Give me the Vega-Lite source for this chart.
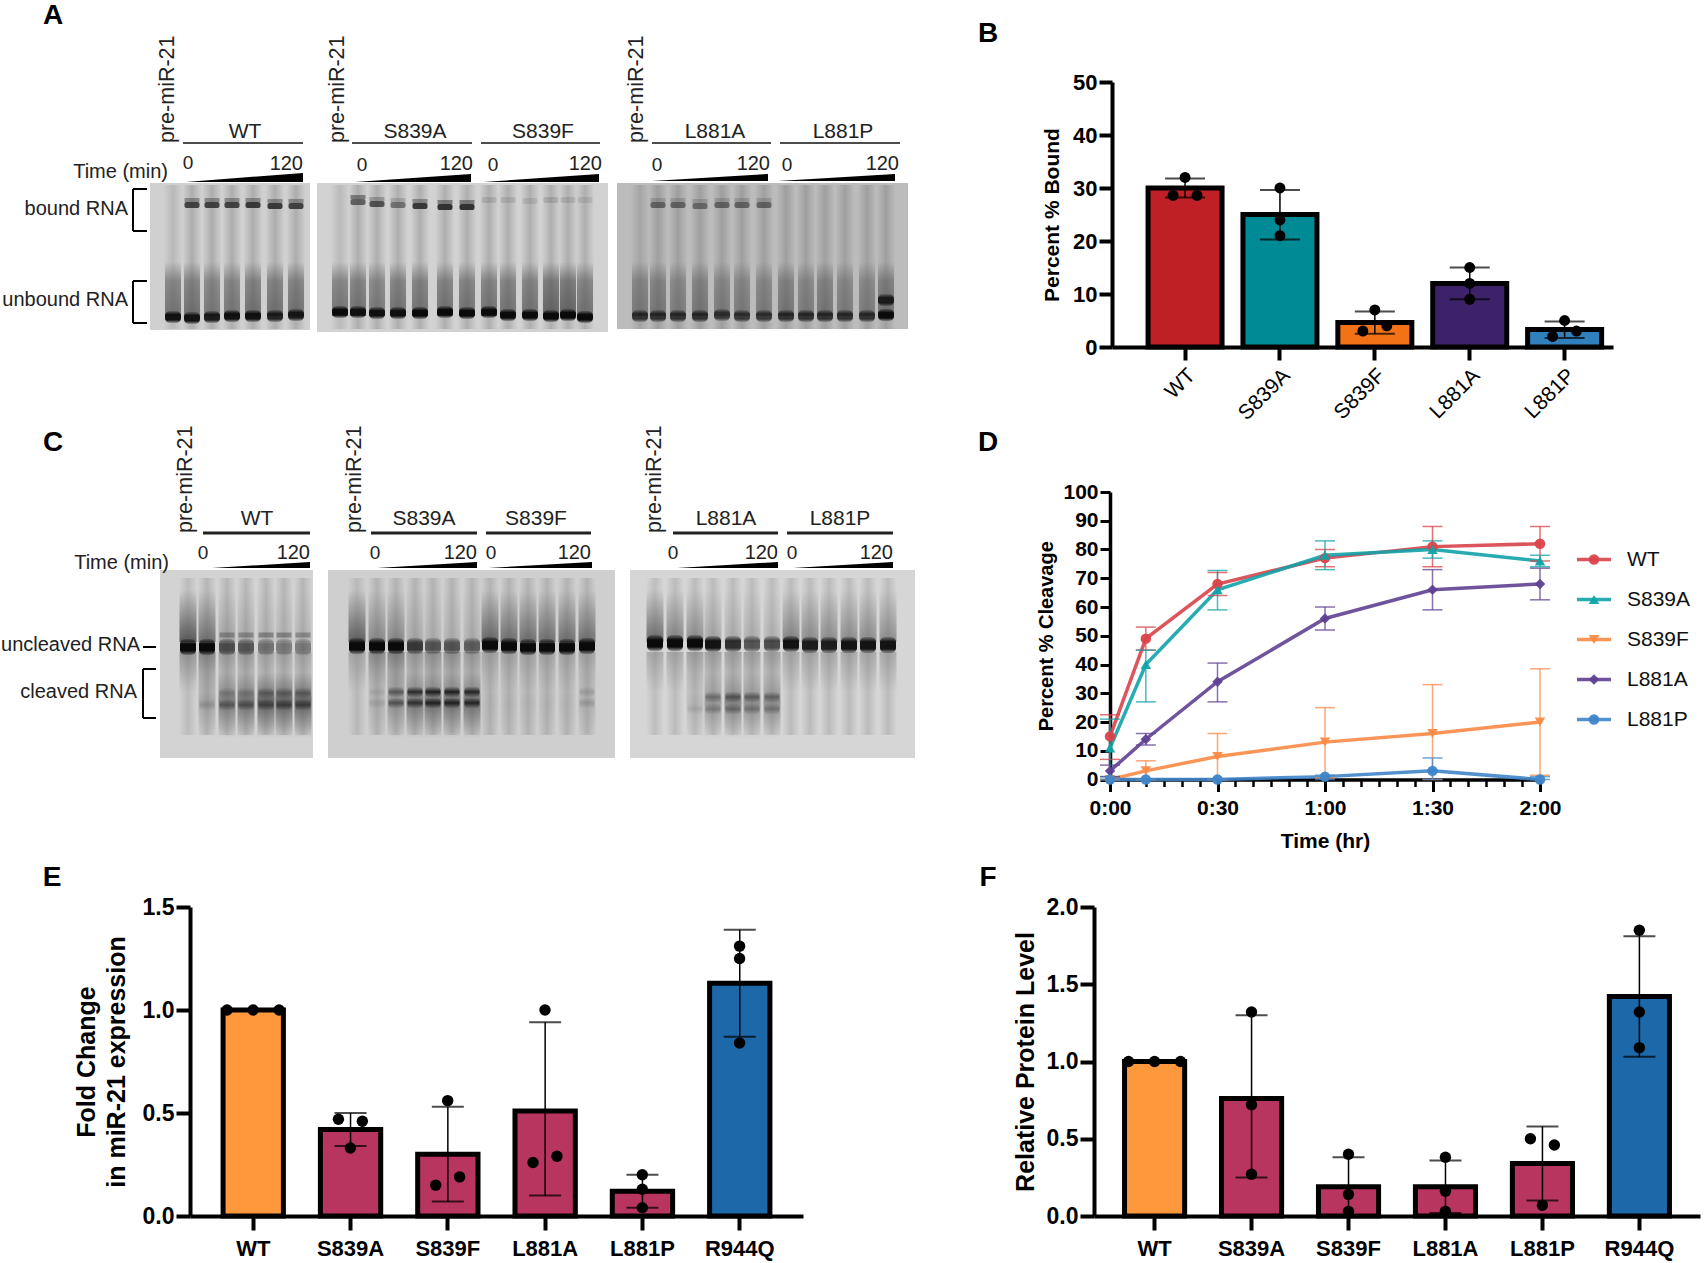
{"$schema":"https://vega.github.io/schema/vega-lite/v6.json","padding":0,"background":"white","config":{"view":{"stroke":null},"font":"Liberation Sans","axis":{"labelFont":"Liberation Sans","titleFont":"Liberation Sans","labelColor":"#000","titleColor":"#000","domainColor":"#000","tickColor":"#000","grid":false,"labelFlush":false}},
"datasets":{
"gelsA":[{"gel":"g1","x0":150,"x1":310,"y0":183,"y1":330},{"gel":"g2","x0":317,"x1":608,"y0":183,"y1":332},{"gel":"g3","x0":617,"x1":908,"y0":183,"y1":329}],
"gelsC":[{"gel":"g1","x0":160,"x1":313,"y0":570,"y1":758},{"gel":"g2","x0":328,"x1":615,"y0":570,"y1":758},{"gel":"g3","x0":630,"x1":915,"y0":570,"y1":758}],
"lanesA":[
{"p":173,"u":317,"uv":0.95,"sv":0.6,"lv":0.2},{"p":192,"u":318,"uv":0.95,"b":205,"bv":0.8,"tv":0.4,"sv":0.6,"lv":0.3},{"p":212,"u":317,"uv":0.9,"b":205,"bv":0.8,"tv":0.4,"sv":0.55,"lv":0.3},{"p":232,"u":316,"uv":0.95,"b":205,"bv":0.8,"tv":0.4,"sv":0.55,"lv":0.3},{"p":253,"u":316,"uv":0.95,"b":205,"bv":0.85,"tv":0.4,"sv":0.6,"lv":0.3},{"p":275,"u":316,"uv":0.85,"b":206,"bv":0.85,"tv":0.4,"sv":0.6,"lv":0.3},{"p":296,"u":315,"uv":0.9,"b":206,"bv":0.8,"tv":0.4,"sv":0.6,"lv":0.3},
{"p":340,"u":312,"uv":1,"sv":0.6,"lv":0.2},{"p":358,"u":312,"uv":0.95,"b":202,"bv":0.6,"tv":0.5,"sv":0.6,"lv":0.3},{"p":377,"u":313,"uv":0.95,"b":204,"bv":0.7,"tv":0.3,"sv":0.55,"lv":0.3},{"p":398,"u":313,"uv":0.95,"b":205,"bv":0.5,"tv":0.2,"sv":0.6,"lv":0.3},{"p":420,"u":313,"uv":1,"b":206,"bv":0.85,"tv":0.4,"sv":0.6,"lv":0.3},{"p":445,"u":312,"uv":1,"b":207,"bv":0.9,"tv":0.5,"sv":0.6,"lv":0.3},{"p":467,"u":313,"uv":1,"b":207,"bv":0.9,"tv":0.5,"sv":0.6,"lv":0.3},
{"p":489,"u":312,"uv":1,"b":200,"bv":0.12,"sv":0.6,"lv":0.3},{"p":508,"u":315,"uv":1,"b":200,"bv":0.12,"sv":0.6,"lv":0.3},{"p":530,"u":315,"uv":1,"b":201,"bv":0.1,"sv":0.6,"lv":0.3},{"p":551,"u":316,"uv":1,"b":200,"bv":0.15,"sv":0.7,"lv":0.3},{"p":568,"u":315,"uv":1,"b":200,"bv":0.12,"sv":0.7,"lv":0.3},{"p":585,"u":317,"uv":1,"b":200,"bv":0.1,"sv":0.6,"lv":0.3},
{"p":640,"u":316,"uv":0.75,"sv":0.5,"lv":0.25},{"p":658,"u":316,"uv":0.75,"b":205,"bv":0.55,"tv":0.2,"sv":0.5,"lv":0.3},{"p":678,"u":316,"uv":0.75,"b":205,"bv":0.55,"tv":0.2,"sv":0.45,"lv":0.3},{"p":700,"u":316,"uv":0.75,"b":206,"bv":0.5,"tv":0.2,"sv":0.5,"lv":0.3},{"p":722,"u":315,"uv":0.7,"b":205,"bv":0.55,"tv":0.2,"sv":0.45,"lv":0.3},{"p":742,"u":316,"uv":0.7,"b":205,"bv":0.55,"tv":0.2,"sv":0.45,"lv":0.3},{"p":764,"u":316,"uv":0.7,"b":205,"bv":0.55,"tv":0.2,"sv":0.45,"lv":0.3},
{"p":786,"u":316,"uv":0.75,"sv":0.5,"lv":0.3},{"p":806,"u":316,"uv":0.75,"sv":0.45,"lv":0.3},{"p":825,"u":316,"uv":0.75,"sv":0.5,"lv":0.3},{"p":845,"u":316,"uv":0.75,"sv":0.45,"lv":0.3},{"p":867,"u":316,"uv":0.75,"sv":0.45,"lv":0.3},{"p":886,"u":315,"uv":1,"sv":0.55,"lv":0.3},{"p":886,"u":300,"uv":0.85}],
"lanesC":[
{"p":188,"u":647,"uv":1,"sv":0.65,"dv":0.3,"lv":0.2},{"p":207,"u":647,"uv":1,"sv":0.5,"dv":0.4,"cv":0.2,"c2":705,"c2v":0.15,"lv":0.25},{"p":227,"u":647,"uv":0.65,"tv":0.3,"sv":0.2,"dv":0.25,"cv":0.45,"c1":693,"c1v":0.2,"c2":705,"c2v":0.4,"lv":0.25},{"p":246,"u":647,"uv":0.6,"tv":0.3,"sv":0.15,"dv":0.25,"cv":0.5,"c1":693,"c1v":0.2,"c2":705,"c2v":0.45,"lv":0.25},{"p":266,"u":647,"uv":0.45,"tv":0.35,"sv":0.1,"dv":0.2,"cv":0.6,"c1":693,"c1v":0.35,"c2":705,"c2v":0.5,"lv":0.25},{"p":284,"u":647,"uv":0.4,"tv":0.35,"sv":0.1,"dv":0.2,"cv":0.6,"c1":693,"c1v":0.35,"c2":705,"c2v":0.55,"lv":0.25},{"p":303,"u":647,"uv":0.4,"tv":0.3,"sv":0.1,"dv":0.2,"cv":0.6,"c1":693,"c1v":0.35,"c2":705,"c2v":0.55,"lv":0.25},
{"p":357,"u":646,"uv":1,"sv":0.6,"dv":0.2,"lv":0.2},{"p":377,"u":646,"uv":1,"sv":0.35,"dv":0.35,"cv":0.1,"c1":692,"c1v":0.1,"c2":703,"c2v":0.1,"lv":0.25},{"p":396,"u":646,"uv":1,"sv":0.35,"dv":0.4,"cv":0.3,"c1":692,"c1v":0.5,"c2":703,"c2v":0.5,"lv":0.25},{"p":415,"u":646,"uv":0.75,"sv":0.15,"dv":0.25,"cv":0.45,"c1":692,"c1v":0.8,"c2":703,"c2v":0.7,"lv":0.25},{"p":433,"u":646,"uv":0.6,"sv":0.1,"dv":0.3,"cv":0.5,"c1":692,"c1v":0.9,"c2":703,"c2v":0.85,"lv":0.25},{"p":452,"u":646,"uv":0.6,"sv":0.1,"dv":0.3,"cv":0.5,"c1":692,"c1v":0.9,"c2":703,"c2v":0.85,"lv":0.25},{"p":472,"u":646,"uv":0.55,"sv":0.1,"dv":0.25,"cv":0.5,"c1":692,"c1v":0.85,"c2":703,"c2v":0.8,"lv":0.25},
{"p":490,"u":645,"uv":1,"sv":0.55,"dv":0.2,"cv":0.05,"lv":0.25},{"p":509,"u":646,"uv":1,"sv":0.5,"dv":0.2,"cv":0.05,"lv":0.25},{"p":528,"u":647,"uv":1,"sv":0.5,"dv":0.2,"cv":0.05,"lv":0.25},{"p":547,"u":647,"uv":1,"sv":0.5,"dv":0.2,"cv":0.05,"lv":0.25},{"p":567,"u":647,"uv":1,"sv":0.5,"dv":0.2,"cv":0.05,"lv":0.25},{"p":587,"u":646,"uv":1,"sv":0.5,"dv":0.2,"cv":0.1,"c1":692,"c1v":0.15,"c2":703,"c2v":0.15,"lv":0.25},
{"p":655,"u":643,"uv":1,"sv":0.55,"dv":0.2,"lv":0.2},{"p":675,"u":643,"uv":1,"sv":0.4,"dv":0.2,"lv":0.22},{"p":695,"u":643,"uv":1,"sv":0.35,"dv":0.25,"cv":0.1,"c2":709,"c2v":0.1,"lv":0.22},{"p":713,"u":644,"uv":0.95,"sv":0.2,"dv":0.25,"cv":0.3,"c1":697,"c1v":0.35,"c2":709,"c2v":0.25,"lv":0.22},{"p":733,"u":644,"uv":0.8,"sv":0.15,"dv":0.25,"cv":0.4,"c1":697,"c1v":0.5,"c2":709,"c2v":0.35,"lv":0.22},{"p":752,"u":644,"uv":0.6,"sv":0.15,"dv":0.25,"cv":0.35,"c1":697,"c1v":0.45,"c2":709,"c2v":0.3,"lv":0.22},{"p":772,"u":644,"uv":0.65,"sv":0.12,"dv":0.25,"cv":0.35,"c1":697,"c1v":0.4,"c2":709,"c2v":0.3,"lv":0.22},
{"p":791,"u":644,"uv":0.95,"sv":0.4,"dv":0.2,"lv":0.22},{"p":810,"u":645,"uv":0.9,"sv":0.35,"dv":0.2,"lv":0.22},{"p":829,"u":645,"uv":0.9,"sv":0.35,"dv":0.2,"lv":0.22},{"p":849,"u":645,"uv":0.95,"sv":0.35,"dv":0.2,"lv":0.22},{"p":868,"u":645,"uv":0.95,"sv":0.35,"dv":0.2,"lv":0.22},{"p":888,"u":645,"uv":0.95,"sv":0.35,"dv":0.2,"lv":0.22}],
"wedgesA":[{"w":1,"x":186,"top":182,"bot":182},{"w":1,"x":303,"top":173,"bot":182},{"w":2,"x":355,"top":182,"bot":182},{"w":2,"x":471,"top":174,"bot":182},{"w":3,"x":483,"top":182,"bot":182},{"w":3,"x":599,"top":174,"bot":182},{"w":4,"x":652,"top":181,"bot":181},{"w":4,"x":768,"top":174,"bot":181},{"w":5,"x":778,"top":181,"bot":181},{"w":5,"x":895,"top":174,"bot":181}],
"wedgesC":[{"w":1,"x":212,"top":568,"bot":568},{"w":1,"x":310,"top":562,"bot":568},{"w":2,"x":377,"top":568,"bot":568},{"w":2,"x":477,"top":562,"bot":568},{"w":3,"x":488,"top":568,"bot":568},{"w":3,"x":592,"top":562,"bot":568},{"w":4,"x":677,"top":568,"bot":568},{"w":4,"x":778,"top":562,"bot":568},{"w":5,"x":793,"top":568,"bot":568},{"w":5,"x":893,"top":562,"bot":568}],
"rulesA":[{"x":183,"x2":303,"y":143},{"x":352,"x2":472,"y":143},{"x":481,"x2":600,"y":143},{"x":652,"x2":771,"y":143},{"x":780,"x2":900,"y":143}],
"bracketsA":[{"x":133,"x2":147,"y":189,"y2":189},{"x":133,"x2":133,"y":189,"y2":231},{"x":133,"x2":147,"y":231,"y2":231},{"x":133,"x2":147,"y":281,"y2":281},{"x":133,"x2":133,"y":281,"y2":323},{"x":133,"x2":147,"y":323,"y2":323}],
"rulesC":[{"x":203,"x2":310,"y":533},{"x":371,"x2":477,"y":533},{"x":486,"x2":591,"y":533},{"x":673,"x2":778,"y":533},{"x":787,"x2":893,"y":533}],
"bracketsC":[{"x":143,"x2":156,"y":647,"y2":647},{"x":143,"x2":156,"y":669,"y2":669},{"x":143,"x2":143,"y":669,"y2":718},{"x":143,"x2":156,"y":718,"y2":718}],
"namesA":[{"t":"WT","x":245,"y":132},{"t":"S839A","x":415,"y":132},{"t":"S839F","x":543,"y":132},{"t":"L881A","x":715,"y":132},{"t":"L881P","x":843,"y":132}],
"zerosA":[{"t":"0","x":188,"y":163},{"t":"0","x":362,"y":165},{"t":"0","x":493,"y":165},{"t":"0","x":657,"y":165},{"t":"0","x":787,"y":165}],
"rightA":[{"t":"120","x":303,"y":164},{"t":"120","x":473,"y":164},{"t":"120","x":602,"y":164},{"t":"120","x":770,"y":164},{"t":"120","x":899,"y":164},{"t":"Time (min)","x":168,"y":172},{"t":"bound RNA","x":128,"y":209},{"t":"unbound RNA","x":128,"y":300}],
"rotA":[{"t":"pre-miR-21","x":168,"y":143},{"t":"pre-miR-21","x":338,"y":143},{"t":"pre-miR-21","x":637,"y":143}],
"letA":[{"t":"A","x":53,"y":16},{"t":"B","x":988,"y":34}],
"namesC":[{"t":"WT","x":257,"y":519},{"t":"S839A","x":424,"y":519},{"t":"S839F","x":536,"y":519},{"t":"L881A","x":726,"y":519},{"t":"L881P","x":840,"y":519}],
"zerosC":[{"t":"0","x":203,"y":553},{"t":"0","x":375,"y":553},{"t":"0","x":491,"y":553},{"t":"0","x":673,"y":553},{"t":"0","x":792,"y":553}],
"rightC":[{"t":"120","x":310,"y":553},{"t":"120","x":477,"y":553},{"t":"120","x":591,"y":553},{"t":"120","x":778,"y":553},{"t":"120","x":893,"y":553},{"t":"Time (min)","x":169,"y":563},{"t":"uncleaved RNA","x":140,"y":645},{"t":"cleaved RNA","x":137,"y":692}],
"rotC":[{"t":"pre-miR-21","x":186,"y":533},{"t":"pre-miR-21","x":355,"y":533},{"t":"pre-miR-21","x":655,"y":533}],
"letC":[{"t":"C","x":53,"y":443},{"t":"D","x":988,"y":443}],
"barsB":[{"g":"WT","v":30,"lo":28.2,"hi":31.8},{"g":"S839A","v":25,"lo":20.3,"hi":29.6},{"g":"S839F","v":4.6,"lo":2.5,"hi":6.7},{"g":"L881A","v":12,"lo":9,"hi":15},{"g":"L881P","v":3.3,"lo":1.7,"hi":4.8}],
"ptsB":[{"g":"WT","v":32,"j":0},{"g":"WT","v":28.6,"j":-0.46},{"g":"WT","v":28.6,"j":0.46},{"g":"S839A","v":30,"j":0},{"g":"S839A","v":24,"j":0},{"g":"S839A","v":21,"j":0},{"g":"S839F","v":7,"j":0},{"g":"S839F","v":3,"j":-0.46},{"g":"S839F","v":4,"j":0.46},{"g":"L881A","v":15,"j":0},{"g":"L881A","v":12,"j":0},{"g":"L881A","v":9,"j":0},{"g":"L881P","v":5,"j":0},{"g":"L881P","v":2,"j":-0.46},{"g":"L881P","v":3,"j":0.46}],
"series":[{"s":"WT"},{"s":"S839A"},{"s":"S839F"},{"s":"L881A"},{"s":"L881P"}],
"curves":[
{"s":"WT","t":0,"v":15,"lo":7,"hi":22.5},{"s":"WT","t":10,"v":49,"lo":45,"hi":53},{"s":"WT","t":30,"v":68,"lo":64,"hi":72},{"s":"WT","t":60,"v":77,"lo":74,"hi":80},{"s":"WT","t":90,"v":81,"lo":74,"hi":88},{"s":"WT","t":120,"v":82,"lo":76,"hi":88},
{"s":"S839A","t":0,"v":11,"lo":1,"hi":21},{"s":"S839A","t":10,"v":40,"lo":27,"hi":45},{"s":"S839A","t":30,"v":66,"lo":59,"hi":72.7},{"s":"S839A","t":60,"v":78,"lo":73,"hi":83},{"s":"S839A","t":90,"v":80,"lo":77,"hi":83},{"s":"S839A","t":120,"v":76,"lo":74,"hi":78},
{"s":"S839F","t":0,"v":0,"lo":0,"hi":0},{"s":"S839F","t":10,"v":3,"lo":0,"hi":6.5},{"s":"S839F","t":30,"v":8,"lo":0,"hi":16},{"s":"S839F","t":60,"v":13,"lo":0.5,"hi":25},{"s":"S839F","t":90,"v":16,"lo":0,"hi":33},{"s":"S839F","t":120,"v":20,"lo":1.5,"hi":38.5},
{"s":"L881A","t":0,"v":3,"lo":1,"hi":5},{"s":"L881A","t":10,"v":14,"lo":12,"hi":16},{"s":"L881A","t":30,"v":34,"lo":27,"hi":40.5},{"s":"L881A","t":60,"v":56,"lo":52,"hi":60},{"s":"L881A","t":90,"v":66,"lo":59,"hi":73},{"s":"L881A","t":120,"v":68,"lo":62.5,"hi":73.5},
{"s":"L881P","t":0,"v":0,"lo":0,"hi":0},{"s":"L881P","t":10,"v":0,"lo":0,"hi":0},{"s":"L881P","t":30,"v":0,"lo":0,"hi":0},{"s":"L881P","t":60,"v":1,"lo":0,"hi":1.5},{"s":"L881P","t":90,"v":3,"lo":0,"hi":7.5},{"s":"L881P","t":120,"v":0,"lo":0,"hi":1}],
"barsE":[{"g":"WT","v":1,"lo":1,"hi":1,"c":"ref"},{"g":"S839A","v":0.42,"lo":0.34,"hi":0.5,"c":"mut"},{"g":"S839F","v":0.3,"lo":0.07,"hi":0.53,"c":"mut"},{"g":"L881A","v":0.51,"lo":0.1,"hi":0.94,"c":"mut"},{"g":"L881P","v":0.12,"lo":0.04,"hi":0.2,"c":"mut"},{"g":"R944Q","v":1.13,"lo":0.87,"hi":1.39,"c":"alt"}],
"ptsE":[{"g":"WT","v":1,"j":-1},{"g":"WT","v":1,"j":0},{"g":"WT","v":1,"j":1},{"g":"S839A","v":0.47,"j":-0.46},{"g":"S839A","v":0.46,"j":0.46},{"g":"S839A","v":0.33,"j":0},{"g":"S839F","v":0.56,"j":0},{"g":"S839F","v":0.15,"j":-0.46},{"g":"S839F","v":0.19,"j":0.46},{"g":"L881A","v":1,"j":0},{"g":"L881A","v":0.26,"j":-0.46},{"g":"L881A","v":0.29,"j":0.46},{"g":"L881P","v":0.2,"j":0},{"g":"L881P","v":0.13,"j":0},{"g":"L881P","v":0.04,"j":0},{"g":"R944Q","v":1.31,"j":0},{"g":"R944Q","v":1.25,"j":0},{"g":"R944Q","v":0.84,"j":0}],
"barsF":[{"g":"WT","v":1,"lo":1,"hi":1,"c":"ref"},{"g":"S839A","v":0.76,"lo":0.25,"hi":1.3,"c":"mut"},{"g":"S839F","v":0.19,"lo":0,"hi":0.38,"c":"mut"},{"g":"L881A","v":0.19,"lo":0.02,"hi":0.36,"c":"mut"},{"g":"L881P","v":0.34,"lo":0.1,"hi":0.58,"c":"mut"},{"g":"R944Q","v":1.42,"lo":1.03,"hi":1.81,"c":"alt"}],
"ptsF":[{"g":"WT","v":1,"j":-1},{"g":"WT","v":1,"j":0},{"g":"WT","v":1,"j":1},{"g":"S839A","v":1.32,"j":0},{"g":"S839A","v":0.72,"j":0},{"g":"S839A","v":0.27,"j":0},{"g":"S839F","v":0.4,"j":0},{"g":"S839F","v":0.14,"j":0},{"g":"S839F","v":0.03,"j":0},{"g":"L881A","v":0.38,"j":0},{"g":"L881A","v":0.16,"j":0},{"g":"L881A","v":0.03,"j":0},{"g":"L881P","v":0.5,"j":-0.46},{"g":"L881P","v":0.46,"j":0.46},{"g":"L881P","v":0.07,"j":0},{"g":"R944Q","v":1.85,"j":0},{"g":"R944Q","v":1.32,"j":0},{"g":"R944Q","v":1.09,"j":0}],
"letE":[{"t":"E","x":52,"y":878}],
"letF":[{"t":"F","x":988,"y":878}]
},
"spacing":0,"bounds":"full","resolve":{"scale":{"color":"independent","shape":"independent"}},
"vconcat":[
{"hconcat":[
{"width":1112,"height":425,"layer":[
{"data":{"name":"gelsA"},"mark":{"type":"rect"},"encoding":{"x":{"field":"x0","type":"quantitative","axis":null,"scale":{"domain":[0,1112],"nice":false,"zero":false}},"x2":{"field":"x1"},"y":{"field":"y0","type":"quantitative","axis":null,"scale":{"domain":[425,0],"nice":false,"zero":false}},"y2":{"field":"y1"},"color":{"field":"gel","type":"nominal","legend":null,"scale":{"domain":["g1","g2","g3"],"range":["#d0d0d0","#d2d2d2","#bcbcbc"]}}}},
{"data":{"name":"lanesA"},"transform":[{"filter":"datum.lv>0"}],"mark":{"type":"rect","width":19,"fill":{"gradient":"linear","x1":0,"y1":0,"x2":1,"y2":0,"stops":[{"offset":0,"color":"rgba(90,90,90,0)"},{"offset":0.5,"color":"#5a5a5a"},{"offset":1,"color":"rgba(90,90,90,0)"}]}},"encoding":{"x":{"field":"p","type":"quantitative","axis":null},"y":{"datum":185,"type":"quantitative","axis":null},"y2":{"datum":329},"opacity":{"field":"lv","type":"quantitative","scale":null}}},
{"data":{"name":"lanesA"},"transform":[{"filter":"datum.sv>0"}],"mark":{"type":"rect","width":16,"fill":{"gradient":"linear","x1":0,"y1":0,"x2":0,"y2":1,"stops":[{"offset":0,"color":"rgba(60,60,60,0)"},{"offset":0.35,"color":"rgba(60,60,60,0.75)"},{"offset":1,"color":"#3c3c3c"}]}},"encoding":{"x":{"field":"p","type":"quantitative","axis":null},"y":{"datum":262,"type":"quantitative","axis":null},"y2":{"datum":316},"opacity":{"field":"sv","type":"quantitative","scale":null}}},
{"data":{"name":"lanesA"},"transform":[{"filter":"datum.tv>0"}],"mark":{"type":"rect","width":15,"height":4,"fill":"#333"},"encoding":{"x":{"field":"p","type":"quantitative","axis":null},"y":{"field":"b","type":"quantitative","axis":null},"yOffset":{"datum":-5,"scale":null},"opacity":{"field":"tv","type":"quantitative","scale":null}}},
{"data":{"name":"lanesA"},"transform":[{"filter":"datum.bv>0"}],"mark":{"type":"rect","width":15,"height":6,"cornerRadius":2,"fill":"#222"},"encoding":{"x":{"field":"p","type":"quantitative","axis":null},"y":{"field":"b","type":"quantitative","axis":null},"opacity":{"field":"bv","type":"quantitative","scale":null}}},
{"data":{"name":"lanesA"},"mark":{"type":"rect","width":16,"height":12,"cornerRadius":5,"fill":{"gradient":"linear","x1":0,"y1":0,"x2":0,"y2":1,"stops":[{"offset":0,"color":"rgba(10,10,10,0.2)"},{"offset":0.3,"color":"#0a0a0a"},{"offset":0.75,"color":"#0a0a0a"},{"offset":1,"color":"rgba(10,10,10,0.2)"}]}},"encoding":{"x":{"field":"p","type":"quantitative","axis":null},"y":{"field":"u","type":"quantitative","axis":null},"opacity":{"field":"uv","type":"quantitative","scale":null}}},
{"data":{"name":"wedgesA"},"mark":{"type":"area","color":"#000"},"encoding":{"x":{"field":"x","type":"quantitative","axis":null},"y":{"field":"top","type":"quantitative","axis":null},"y2":{"field":"bot"},"detail":{"field":"w"}}},
{"data":{"name":"rulesA"},"mark":{"type":"rule","strokeWidth":1.5,"color":"#111"},"encoding":{"x":{"field":"x","type":"quantitative","axis":null},"x2":{"field":"x2"},"y":{"field":"y","type":"quantitative","axis":null}}},
{"data":{"name":"bracketsA"},"mark":{"type":"rule","strokeWidth":2,"color":"#000"},"encoding":{"x":{"field":"x","type":"quantitative","axis":null},"x2":{"field":"x2"},"y":{"field":"y","type":"quantitative","axis":null},"y2":{"field":"y2"}}},
{"data":{"name":"namesA"},"mark":{"type":"text","fontSize":21,"color":"#222","baseline":"middle"},"encoding":{"x":{"field":"x","type":"quantitative","axis":null},"y":{"field":"y","type":"quantitative","axis":null},"text":{"field":"t"}}},
{"data":{"name":"zerosA"},"mark":{"type":"text","fontSize":19,"color":"#222","baseline":"middle"},"encoding":{"x":{"field":"x","type":"quantitative","axis":null},"y":{"field":"y","type":"quantitative","axis":null},"text":{"field":"t"}}},
{"data":{"name":"rightA"},"mark":{"type":"text","fontSize":20,"color":"#222","baseline":"middle","align":"right"},"encoding":{"x":{"field":"x","type":"quantitative","axis":null},"y":{"field":"y","type":"quantitative","axis":null},"text":{"field":"t"}}},
{"data":{"name":"rotA"},"mark":{"type":"text","fontSize":21.5,"color":"#222","baseline":"middle","align":"left","angle":270},"encoding":{"x":{"field":"x","type":"quantitative","axis":null},"y":{"field":"y","type":"quantitative","axis":null},"text":{"field":"t"}}},
{"data":{"name":"letA"},"mark":{"type":"text","fontSize":28,"fontWeight":"bold","color":"#000","baseline":"middle"},"encoding":{"x":{"field":"x","type":"quantitative","axis":null},"y":{"field":"y","type":"quantitative","axis":null},"text":{"field":"t"}}}
]},
{"width":501,"height":425,"resolve":{"scale":{"xOffset":"independent"}},"layer":[
{"data":{"name":"barsB"},"mark":{"type":"bar","stroke":"#000","strokeWidth":5},"encoding":{"x":{"field":"g","type":"nominal","sort":null,"scale":{"paddingInner":0.22,"paddingOuter":0.25,"align":0.76},"axis":{"title":null,"labelAngle":-45,"labelFontSize":21,"labelAlign":"right","labelBaseline":"middle","labelPadding":12,"labelOffset":7,"tickSize":13,"tickWidth":4,"domainWidth":4,"offset":-78}},"y":{"field":"v","type":"quantitative","title":"Percent % Bound","scale":{"domain":[0,50],"range":[347,82],"nice":false},"axis":{"title":"Percent % Bound","values":[0,10,20,30,40,50],"labelFontSize":22,"labelFontWeight":"bold","titleFontSize":21,"titleFontWeight":"bold","tickSize":13,"tickWidth":4,"domainWidth":4,"titlePadding":10}},"color":{"field":"g","type":"nominal","legend":null,"scale":{"domain":["WT","S839A","S839F","L881A","L881P"],"range":["#bf2025","#008a96","#f47216","#3d2269","#2f80bd"]}}}},
{"data":{"name":"barsB"},"mark":{"type":"errorbar","ticks":{"size":40,"thickness":2,"color":"#000"},"rule":{"strokeWidth":1.5,"color":"#000"}},"encoding":{"x":{"field":"g","type":"nominal","sort":null},"y":{"field":"lo","type":"quantitative","title":"Percent % Bound","axis":{"title":"Percent % Bound"}},"y2":{"field":"hi"}}},
{"data":{"name":"ptsB"},"mark":{"type":"point","filled":true,"color":"#000","opacity":1,"size":120},"encoding":{"x":{"field":"g","type":"nominal","sort":null},"xOffset":{"field":"j","type":"quantitative","scale":{"domain":[-1,1],"range":[11,63]}},"y":{"field":"v","type":"quantitative","title":"Percent % Bound"}}}
]}
],"spacing":0,"bounds":"flush","resolve":{"scale":{"color":"independent","shape":"independent"}}},
{"hconcat":[
{"width":1110,"height":435,"layer":[
{"data":{"name":"gelsC"},"mark":{"type":"rect"},"encoding":{"x":{"field":"x0","type":"quantitative","axis":null,"scale":{"domain":[0,1110],"nice":false,"zero":false}},"x2":{"field":"x1"},"y":{"field":"y0","type":"quantitative","axis":null,"scale":{"domain":[860,425],"nice":false,"zero":false}},"y2":{"field":"y1"},"color":{"field":"gel","type":"nominal","legend":null,"scale":{"domain":["g1","g2","g3"],"range":["#d3d3d3","#cfcfcf","#d6d6d6"]}}}},
{"data":{"name":"lanesC"},"mark":{"type":"rect","width":18,"fill":{"gradient":"linear","x1":0,"y1":0,"x2":1,"y2":0,"stops":[{"offset":0,"color":"rgba(90,90,90,0)"},{"offset":0.5,"color":"#5a5a5a"},{"offset":1,"color":"rgba(90,90,90,0)"}]}},"encoding":{"x":{"field":"p","type":"quantitative","axis":null},"y":{"datum":578,"type":"quantitative","axis":null},"y2":{"datum":735},"opacity":{"field":"lv","type":"quantitative","scale":null}}},
{"data":{"name":"lanesC"},"mark":{"type":"rect","width":17,"fill":{"gradient":"linear","x1":0,"y1":0,"x2":0,"y2":1,"stops":[{"offset":0,"color":"rgba(30,30,30,0)"},{"offset":1,"color":"#1e1e1e"}]}},"encoding":{"x":{"field":"p","type":"quantitative","axis":null},"y":{"datum":590,"type":"quantitative","axis":null},"y2":{"datum":642},"opacity":{"field":"sv","type":"quantitative","scale":null}}},
{"data":{"name":"lanesC"},"mark":{"type":"rect","width":17,"fill":{"gradient":"linear","x1":0,"y1":0,"x2":0,"y2":1,"stops":[{"offset":0,"color":"#1e1e1e"},{"offset":1,"color":"rgba(30,30,30,0)"}]}},"encoding":{"x":{"field":"p","type":"quantitative","axis":null},"y":{"datum":652,"type":"quantitative","axis":null},"y2":{"datum":692},"opacity":{"field":"dv","type":"quantitative","scale":null}}},
{"data":{"name":"lanesC"},"transform":[{"filter":"datum.cv>0"}],"mark":{"type":"rect","width":17,"fill":{"gradient":"linear","x1":0,"y1":0,"x2":0,"y2":1,"stops":[{"offset":0,"color":"rgba(30,30,30,0)"},{"offset":0.45,"color":"#1e1e1e"},{"offset":1,"color":"rgba(30,30,30,0)"}]}},"encoding":{"x":{"field":"p","type":"quantitative","axis":null},"y":{"datum":672,"type":"quantitative","axis":null},"y2":{"datum":738},"opacity":{"field":"cv","type":"quantitative","scale":null}}},
{"data":{"name":"lanesC"},"transform":[{"filter":"datum.tv>0"}],"mark":{"type":"rect","width":15,"height":5,"fill":"#222"},"encoding":{"x":{"field":"p","type":"quantitative","axis":null},"y":{"datum":635,"type":"quantitative","axis":null},"opacity":{"field":"tv","type":"quantitative","scale":null}}},
{"data":{"name":"lanesC"},"transform":[{"filter":"datum.c1v>0"}],"mark":{"type":"rect","width":15,"height":11,"cornerRadius":4,"fill":{"gradient":"linear","x1":0,"y1":0,"x2":0,"y2":1,"stops":[{"offset":0,"color":"rgba(15,15,15,0)"},{"offset":0.5,"color":"#0f0f0f"},{"offset":1,"color":"rgba(15,15,15,0)"}]}},"encoding":{"x":{"field":"p","type":"quantitative","axis":null},"y":{"field":"c1","type":"quantitative","axis":null},"opacity":{"field":"c1v","type":"quantitative","scale":null}}},
{"data":{"name":"lanesC"},"transform":[{"filter":"datum.c2v>0"}],"mark":{"type":"rect","width":15,"height":11,"cornerRadius":4,"fill":{"gradient":"linear","x1":0,"y1":0,"x2":0,"y2":1,"stops":[{"offset":0,"color":"rgba(15,15,15,0)"},{"offset":0.5,"color":"#0f0f0f"},{"offset":1,"color":"rgba(15,15,15,0)"}]}},"encoding":{"x":{"field":"p","type":"quantitative","axis":null},"y":{"field":"c2","type":"quantitative","axis":null},"opacity":{"field":"c2v","type":"quantitative","scale":null}}},
{"data":{"name":"lanesC"},"mark":{"type":"rect","width":16,"height":16,"cornerRadius":5,"fill":{"gradient":"linear","x1":0,"y1":0,"x2":0,"y2":1,"stops":[{"offset":0,"color":"rgba(10,10,10,0.2)"},{"offset":0.3,"color":"#0a0a0a"},{"offset":0.75,"color":"#0a0a0a"},{"offset":1,"color":"rgba(10,10,10,0.2)"}]}},"encoding":{"x":{"field":"p","type":"quantitative","axis":null},"y":{"field":"u","type":"quantitative","axis":null},"opacity":{"field":"uv","type":"quantitative","scale":null}}},
{"data":{"name":"wedgesC"},"mark":{"type":"area","color":"#000"},"encoding":{"x":{"field":"x","type":"quantitative","axis":null},"y":{"field":"top","type":"quantitative","axis":null},"y2":{"field":"bot"},"detail":{"field":"w"}}},
{"data":{"name":"rulesC"},"mark":{"type":"rule","strokeWidth":3,"color":"#222"},"encoding":{"x":{"field":"x","type":"quantitative","axis":null},"x2":{"field":"x2"},"y":{"field":"y","type":"quantitative","axis":null}}},
{"data":{"name":"bracketsC"},"mark":{"type":"rule","strokeWidth":2,"color":"#000"},"encoding":{"x":{"field":"x","type":"quantitative","axis":null},"x2":{"field":"x2"},"y":{"field":"y","type":"quantitative","axis":null},"y2":{"field":"y2"}}},
{"data":{"name":"namesC"},"mark":{"type":"text","fontSize":21,"color":"#222","baseline":"middle"},"encoding":{"x":{"field":"x","type":"quantitative","axis":null},"y":{"field":"y","type":"quantitative","axis":null},"text":{"field":"t"}}},
{"data":{"name":"zerosC"},"mark":{"type":"text","fontSize":19,"color":"#222","baseline":"middle"},"encoding":{"x":{"field":"x","type":"quantitative","axis":null},"y":{"field":"y","type":"quantitative","axis":null},"text":{"field":"t"}}},
{"data":{"name":"rightC"},"mark":{"type":"text","fontSize":20,"color":"#222","baseline":"middle","align":"right"},"encoding":{"x":{"field":"x","type":"quantitative","axis":null},"y":{"field":"y","type":"quantitative","axis":null},"text":{"field":"t"}}},
{"data":{"name":"rotC"},"mark":{"type":"text","fontSize":21.5,"color":"#222","baseline":"middle","align":"left","angle":270},"encoding":{"x":{"field":"x","type":"quantitative","axis":null},"y":{"field":"y","type":"quantitative","axis":null},"text":{"field":"t"}}},
{"data":{"name":"letC"},"mark":{"type":"text","fontSize":28,"fontWeight":"bold","color":"#000","baseline":"middle"},"encoding":{"x":{"field":"x","type":"quantitative","axis":null},"y":{"field":"y","type":"quantitative","axis":null},"text":{"field":"t"}}}
]},
{"width":430,"height":435,"data":{"name":"curves"},"resolve":{"axis":{"x":"independent"}},"layer":[
{"mark":{"type":"line","strokeWidth":3.5,"opacity":0.9},"encoding":{"x":{"field":"t","type":"quantitative","title":"Time (hr)","scale":{"domain":[0,120],"nice":false,"zero":false},"axis":{"orient":"bottom","values":[0,30,60,90,120],"labelExpr":"floor(datum.value/60)+':'+(datum.value%60==0?'00':'30')","labelFontSize":21,"labelFontWeight":"bold","titleFontSize":21,"titleFontWeight":"bold","tickSize":12,"tickWidth":3,"domainWidth":3.5,"labelPadding":6,"titlePadding":12,"offset":-80.5}},"y":{"field":"v","type":"quantitative","title":"Percent % Cleavage","scale":{"domain":[0,100],"range":[354.5,67],"nice":false},"axis":{"title":"Percent % Cleavage","values":[0,10,20,30,40,50,60,70,80,90,100],"labelFontSize":21,"labelFontWeight":"bold","titleFontSize":20,"titleFontWeight":"bold","tickSize":10,"tickWidth":3,"domainWidth":3.5,"titlePadding":6}},"color":{"field":"s","type":"nominal","legend":null,"scale":{"domain":["WT","S839A","S839F","L881A","L881P"],"range":["#d9434a","#11a3a8","#fb8a45","#5f4192","#3f85c9"]}}}},
{"mark":{"type":"errorbar","ticks":{"size":20,"thickness":1.5},"rule":{"strokeWidth":1.5},"opacity":0.75},"encoding":{"x":{"field":"t","type":"quantitative","axis":null},"y":{"field":"lo","type":"quantitative","title":"Percent % Cleavage","axis":{"title":"Percent % Cleavage"}},"y2":{"field":"hi"},"color":{"field":"s","type":"nominal","legend":null}}},
{"mark":{"type":"point","filled":true,"opacity":0.95,"size":110},"encoding":{"x":{"field":"t","type":"quantitative","axis":{"orient":"bottom","values":[0,5,10,15,20,25,30,35,40,45,50,55,60,65,70,75,80,85,90,95,100,105,110,115,120],"labels":false,"title":null,"domain":false,"tickSize":7,"tickWidth":2.5,"offset":-80.5}},"y":{"field":"v","type":"quantitative","title":"Percent % Cleavage"},"color":{"field":"s","type":"nominal","legend":null},"shape":{"field":"s","type":"nominal","legend":null,"scale":{"domain":["WT","S839A","S839F","L881A","L881P"],"range":["circle","triangle-up","triangle-down","diamond","circle"]}}}}
]},
{"width":167,"height":435,"data":{"name":"series"},"layer":[
{"mark":{"type":"rule","strokeWidth":3.5,"opacity":0.9},"encoding":{"x":{"datum":37,"type":"quantitative","axis":null,"scale":{"domain":[0,167],"nice":false,"zero":false}},"x2":{"datum":71},"y":{"field":"s","type":"nominal","sort":null,"axis":null,"scale":{"domain":["WT","S839A","S839F","L881A","L881P"],"type":"point","range":[134.5,294.5],"padding":0}},"color":{"field":"s","type":"nominal","legend":null,"scale":{"domain":["WT","S839A","S839F","L881A","L881P"],"range":["#d9434a","#11a3a8","#fb8a45","#5f4192","#3f85c9"]}}}},
{"mark":{"type":"point","filled":true,"opacity":0.95,"size":110},"encoding":{"x":{"datum":54,"type":"quantitative","axis":null},"y":{"field":"s","type":"nominal","sort":null,"axis":null},"color":{"field":"s","type":"nominal","legend":null},"shape":{"field":"s","type":"nominal","legend":null,"scale":{"domain":["WT","S839A","S839F","L881A","L881P"],"range":["circle","triangle-up","triangle-down","diamond","circle"]}}}},
{"mark":{"type":"text","fontSize":21,"align":"left","baseline":"middle","color":"#111"},"encoding":{"x":{"datum":87,"type":"quantitative","axis":null},"y":{"field":"s","type":"nominal","sort":null,"axis":null},"text":{"field":"s"}}}
]}
],"spacing":0,"bounds":"flush","resolve":{"scale":{"color":"independent","shape":"independent"}}},
{"hconcat":[
{"width":190,"height":403,"data":{"name":"letE"},"mark":{"type":"text","fontSize":28,"fontWeight":"bold","color":"#000","baseline":"middle"},"encoding":{"x":{"field":"x","type":"quantitative","axis":null,"scale":{"domain":[0,190],"nice":false,"zero":false}},"y":{"field":"y","type":"quantitative","axis":null,"scale":{"domain":[1263,860],"nice":false,"zero":false}},"text":{"field":"t"}}},
{"width":613,"height":403,"resolve":{"scale":{"xOffset":"independent"}},"layer":[
{"data":{"name":"barsE"},"mark":{"type":"bar","stroke":"#000","strokeWidth":5},"encoding":{"x":{"field":"g","type":"nominal","sort":null,"scale":{"paddingInner":0.38,"paddingOuter":0.34},"axis":{"title":null,"labelAngle":0,"labelFontSize":22,"labelFontWeight":"bold","labelPadding":8,"tickSize":14,"tickWidth":4,"domainWidth":4,"offset":-47}},"y":{"field":"v","type":"quantitative","title":["Fold Change","in miR-21 expression"],"scale":{"domain":[0,1.5],"range":[356,47],"nice":false},"axis":{"title":["Fold Change","in miR-21 expression"],"values":[0,0.5,1,1.5],"format":".1f","labelFontSize":23,"labelFontWeight":"bold","titleFontSize":25,"titleFontWeight":"bold","titleLineHeight":30,"tickSize":14,"tickWidth":4,"domainWidth":4,"titlePadding":13}},"color":{"field":"c","type":"nominal","legend":null,"scale":{"domain":["ref","mut","alt"],"range":["#fd993c","#b83560","#1d68a8"]}}}},
{"data":{"name":"barsE"},"transform":[{"filter":"datum.hi>datum.lo"}],"mark":{"type":"errorbar","ticks":{"size":32,"thickness":2,"color":"#000"},"rule":{"strokeWidth":1.5,"color":"#000"}},"encoding":{"x":{"field":"g","type":"nominal","sort":null},"y":{"field":"lo","type":"quantitative","title":["Fold Change","in miR-21 expression"],"axis":{"title":["Fold Change","in miR-21 expression"]}},"y2":{"field":"hi"}}},
{"data":{"name":"ptsE"},"mark":{"type":"point","filled":true,"color":"#000","opacity":1,"size":130},"encoding":{"x":{"field":"g","type":"nominal","sort":null},"xOffset":{"field":"j","type":"quantitative","scale":{"domain":[-1,1],"range":[4,56]}},"y":{"field":"v","type":"quantitative","title":["Fold Change","in miR-21 expression"]}}}
]},
{"width":291,"height":403,"data":{"name":"letF"},"mark":{"type":"text","fontSize":28,"fontWeight":"bold","color":"#000","baseline":"middle"},"encoding":{"x":{"field":"x","type":"quantitative","axis":null,"scale":{"domain":[803,1094],"nice":false,"zero":false}},"y":{"field":"y","type":"quantitative","axis":null,"scale":{"domain":[1263,860],"nice":false,"zero":false}},"text":{"field":"t"}}},
{"width":606,"height":403,"resolve":{"scale":{"xOffset":"independent"}},"layer":[
{"data":{"name":"barsF"},"mark":{"type":"bar","stroke":"#000","strokeWidth":5},"encoding":{"x":{"field":"g","type":"nominal","sort":null,"scale":{"paddingInner":0.38,"paddingOuter":0.315},"axis":{"title":null,"labelAngle":0,"labelFontSize":22,"labelFontWeight":"bold","labelPadding":8,"tickSize":14,"tickWidth":4,"domainWidth":4,"offset":-47}},"y":{"field":"v","type":"quantitative","title":"Relative Protein Level","scale":{"domain":[0,2],"range":[356,47],"nice":false},"axis":{"title":"Relative Protein Level","values":[0,0.5,1,1.5,2],"format":".1f","labelFontSize":23,"labelFontWeight":"bold","titleFontSize":25,"titleFontWeight":"bold","tickSize":14,"tickWidth":4,"domainWidth":4,"titlePadding":8}},"color":{"field":"c","type":"nominal","legend":null,"scale":{"domain":["ref","mut","alt"],"range":["#fd993c","#b83560","#1d68a8"]}}}},
{"data":{"name":"barsF"},"transform":[{"filter":"datum.hi>datum.lo"}],"mark":{"type":"errorbar","ticks":{"size":32,"thickness":2,"color":"#000"},"rule":{"strokeWidth":1.5,"color":"#000"}},"encoding":{"x":{"field":"g","type":"nominal","sort":null},"y":{"field":"lo","type":"quantitative","title":"Relative Protein Level","axis":{"title":"Relative Protein Level"}},"y2":{"field":"hi"}}},
{"data":{"name":"ptsF"},"mark":{"type":"point","filled":true,"color":"#000","opacity":1,"size":130},"encoding":{"x":{"field":"g","type":"nominal","sort":null},"xOffset":{"field":"j","type":"quantitative","scale":{"domain":[-1,1],"range":[4,56]}},"y":{"field":"v","type":"quantitative","title":"Relative Protein Level"}}}
]}
],"spacing":0,"bounds":"flush","resolve":{"scale":{"color":"independent","shape":"independent"}}}
]}
